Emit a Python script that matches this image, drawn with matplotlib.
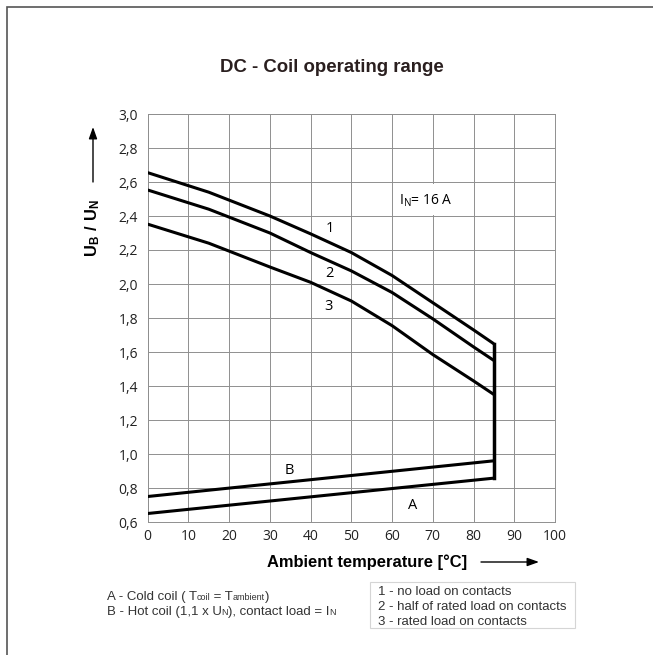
import matplotlib
matplotlib.use("Agg")
import matplotlib.pyplot as plt
from matplotlib.patches import Rectangle, FancyArrowPatch

# curve data
temp = [0, 15, 30, 40, 50, 60, 70, 80, 85]
curve_1 = [2.655, 2.54, 2.40, 2.295, 2.185, 2.05, 1.89, 1.73, 1.648]
curve_2 = [2.553, 2.44, 2.30, 2.185, 2.077, 1.95, 1.795, 1.63, 1.55]
curve_3 = [2.352, 2.24, 2.10, 2.01, 1.90, 1.755, 1.585, 1.43, 1.35]
temp_ab = [0, 85]
curve_a = [0.65, 0.858]
curve_b = [0.75, 0.96]
t_max = 85

x_ticks = list(range(0, 101, 10))
y_ticks = [0.6, 0.8, 1.0, 1.2, 1.4, 1.6, 1.8, 2.0, 2.2, 2.4, 2.6, 2.8, 3.0]

notes_legend = ["1 - no load on contacts",
                "2 - half of rated load on contacts",
                "3 - rated load on contacts"]

W, H = 653, 655
plt.rcParams['font.family'] = ['Liberation Sans', 'DejaVu Sans']
plt.rcParams['mathtext.fontset'] = 'custom'
plt.rcParams['mathtext.rm'] = 'Liberation Sans'
plt.rcParams['mathtext.bf'] = 'Liberation Sans:bold'

def fx(x):
    return x / W

def fy(y):
    return 1 - y / H

fig = plt.figure(figsize=(W / 100, H / 100), dpi=100)
ax = fig.add_axes([fx(147.7), fy(522), (555 - 147.7) / W, (522 - 114) / H])

grid_c = '#8f8f8f'
for v in x_ticks:
    ax.axvline(v, color=grid_c, lw=0.7, zorder=1)
for v in y_ticks:
    ax.axhline(v, color=grid_c, lw=0.7, zorder=1)
for s in ax.spines.values():
    s.set_color(grid_c)
    s.set_linewidth(0.7)

ax.set_xlim(0, 100)
ax.set_ylim(0.6, 3.0)
ax.set_xticks(x_ticks)
ax.set_yticks(y_ticks)
ax.set_xticklabels([str(v) for v in x_ticks])
ax.set_yticklabels([f"{v:.1f}".replace('.', ',') for v in y_ticks])
ax.tick_params(length=0, labelsize=10, colors='#222222', pad=5)
ax.tick_params(axis='y', pad=7)
for lab in ax.get_xticklabels() + ax.get_yticklabels():
    lab.set_family('Open Sans')

lw = 2.2
for c in (curve_1, curve_2, curve_3):
    ax.plot(temp, c, color='black', lw=lw, zorder=3, solid_capstyle='butt')
ax.plot(temp_ab, curve_a, color='black', lw=lw, zorder=3)
ax.plot(temp_ab, curve_b, color='black', lw=lw, zorder=3)
ax.plot([t_max, t_max], [curve_1[-1], curve_a[-1]], color='black', lw=2.5,
        zorder=3, solid_capstyle='projecting')

# white patch behind the rating label
ax.add_patch(Rectangle((60.4, 2.405), 19.2, 0.185, facecolor='white',
                       edgecolor='none', zorder=2))
ax.text(61.8, 2.49, r'$\mathregular{I_N}$= 16 A', fontsize=10, va='center',
        ha='left', family='Open Sans', zorder=4)

lab_kw = dict(fontsize=10.5, family='Open Sans', ha='center', va='center', zorder=4)
ax.text(44.7, 2.324, '1', **lab_kw)
ax.text(44.7, 2.063, '2', **lab_kw)
ax.text(44.3, 1.868, '3', **lab_kw)
ax.text(34.8, 0.90, 'B', **lab_kw)
ax.text(65, 0.698, 'A', **lab_kw)

# title and axis labels
fig.text(fx(332), fy(67), 'DC - Coil operating range', fontsize=13.4,
         fontweight='bold', ha='center', va='center', color='#2a1f1f')
fig.text(fx(367), fy(562), 'Ambient temperature [°C]', fontsize=11.9,
         fontweight='bold', ha='center', va='center')
fig.text(fx(93), fy(228), r'$\mathbf{U_B\ /\ U_N}$', fontsize=11.9,
         rotation=90, ha='center', va='center')

arrow_kw = dict(arrowstyle='-|>,head_length=0.7,head_width=0.25', mutation_scale=10,
                color='black', lw=1.0, shrinkA=0, shrinkB=0)
fig.add_artist(FancyArrowPatch((fx(93), fy(182)), (fx(93), fy(127)),
                               transform=fig.transFigure, **arrow_kw))
fig.add_artist(FancyArrowPatch((fx(481), fy(562)), (fx(539), fy(562)),
                               transform=fig.transFigure, **arrow_kw))

# notes with small inline letters
renderer = fig.canvas.get_renderer()

def rich_text(x, y, pieces):
    for s, size in pieces:
        t = fig.text(fx(x), fy(y), s, fontsize=size, ha='left', va='baseline',
                     color='#333333')
        bb = t.get_window_extent(renderer)
        x = bb.x1

big, small = 9.5, 6.5
rich_text(106.7, 600, [('A - Cold coil ( T', big), ('coil', small), (' = T', big),
                       ('ambient', small), (')', big)])
rich_text(106.7, 615, [('B - Hot coil (1,1 x U', big), ('N', small),
                       ('), contact load = I', big), ('N', small)])

fig.add_artist(Rectangle((fx(370), fy(628)), (575 - 370) / W, (628 - 582) / H,
                         transform=fig.transFigure, facecolor='none',
                         edgecolor='#d5d5d5', lw=0.8))
for i, s in enumerate(notes_legend):
    fig.text(fx(378), fy(595 + 15 * i), s, fontsize=big, ha='left', va='baseline',
             color='#333333')

# outer frame (only top and left edges fall inside the picture)
fig.add_artist(Rectangle((fx(7), fy(700)), 800 / W, 693 / H, transform=fig.transFigure,
                         facecolor='none', edgecolor='#555555', lw=1.2))

fig.savefig('out.png', dpi=100)
